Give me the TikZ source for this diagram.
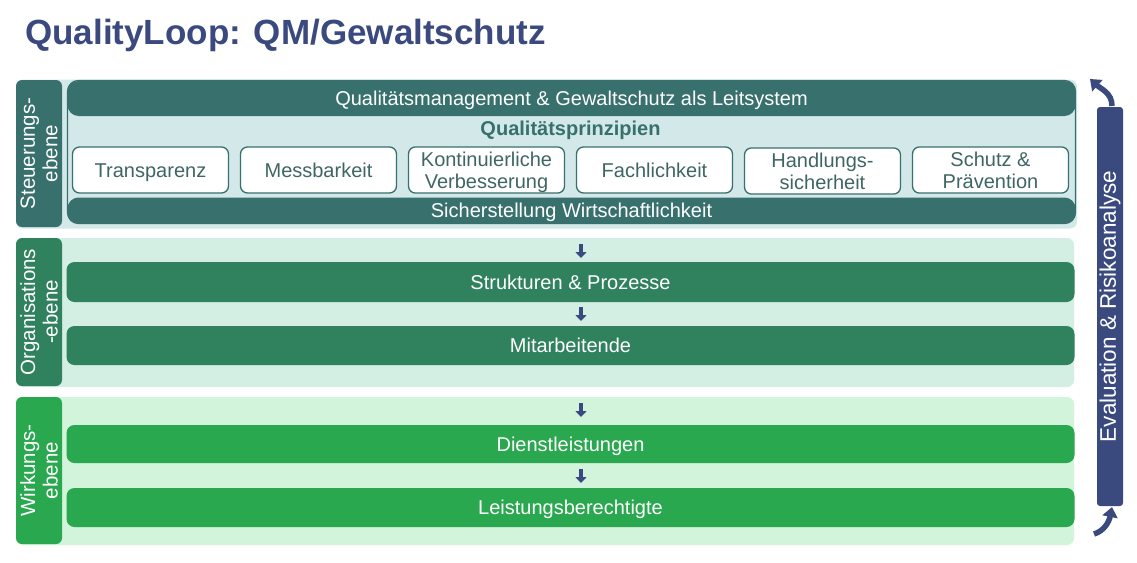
\documentclass[tikz,border=0pt]{standalone}
\usepackage{fontspec}
\setmainfont{Liberation Sans}
\usetikzlibrary{arrows.meta}
\definecolor{dteal}{HTML}{37706D}
\definecolor{lteal}{HTML}{D3E9E9}
\definecolor{ptext}{HTML}{3F6664}
\definecolor{orgc}{HTML}{30825F}
\definecolor{orgbg}{HTML}{D3EEE2}
\definecolor{wirc}{HTML}{29A84F}
\definecolor{wirbg}{HTML}{D1F4DA}
\definecolor{qblue}{HTML}{3A4A7F}
\newcommand{\toprule}{\rule{0pt}{19.5pt}}
\tikzset{
  bodyfont/.style={font=\fontsize{20}{22.5}\selectfont},
  oneline/.style={text height=14.2pt, text depth=0pt},
  band/.style={rounded corners=7pt, inner sep=0pt, draw=none},
  lvlbox/.style={rounded corners=6pt, inner sep=0pt, minimum width=46pt, text=white, font=\fontsize{20.5}{22.5}\selectfont, align=center, rotate=90},
  bar/.style={rounded corners=8pt, inner sep=0pt, minimum width=1008pt, text=white, bodyfont, oneline},
  pbox/.style={rounded corners=7pt, draw=dteal, line width=1.3pt, fill=white, inner sep=0pt, minimum width=156pt, minimum height=46pt, text=ptext, bodyfont, align=center},
  darr/.style={draw=qblue, line width=4.5pt, -{Triangle[width=11pt,length=6pt]}},
  carr/.style={draw=qblue, line width=5.5pt, -{Triangle[width=15pt,length=10pt]}},
}
\begin{document}
\begin{tikzpicture}[x=1pt,y=-1pt]
\useasboundingbox (0,0) rectangle (1137,562);
\fill[white] (0,0) rectangle (1137,562);
% title
\node[anchor=base west, inner sep=0pt, text=qblue, font=\fontsize{35}{40}\selectfont\bfseries] (title) at (25,44) {QualityLoop: QM/Gewaltschutz};
% ---------- Steuerungsebene
\node[band, fill=lteal, minimum width=1061pt, minimum height=149pt] (stband) at (546.5,154) {};
\node[lvlbox, fill=dteal, minimum width=147pt, minimum height=46pt] (stlab) at (39,153.5) {Steuerungs-\\ebene};
\node[rounded corners=11pt, draw=dteal, line width=1.3pt, fill=lteal, inner sep=0pt, minimum width=1008pt, minimum height=143pt] (stcont) at (571.5,152) {};
\node[bar, fill=dteal, minimum height=35pt, rounded corners=11pt] (qm) at (571.5,98.5) {Qualitätsmanagement \& Gewaltschutz als Leitsystem};
\node[bar, fill=dteal, minimum height=26pt, rounded corners=11pt] (wi) at (571.5,210.5) {Sicherstellung Wirtschaftlichkeit};
\node[text=dteal, font=\fontsize{20}{22}\selectfont\bfseries, oneline, inner sep=0pt] (qp) at (570.5,128) {Qualitätsprinzipien};
\node[pbox, oneline] (p1) at (150.5,170) {Transparenz};
\node[pbox, oneline] (p2) at (318.5,170) {Messbarkeit};
\node[pbox] (p3) at (486.5,170) {\toprule Kontinuierliche\\Verbesserung};
\node[pbox, oneline] (p4) at (654.5,170) {Fachlichkeit};
\node[pbox] (p5) at (822.5,171) {\toprule Handlungs-\\sicherheit\vphantom{g}};
\node[pbox] (p6) at (990.5,170) {\toprule Schutz \&\\Prävention\vphantom{g}};
% ---------- Organisationsebene
\node[band, fill=orgbg, minimum width=1058pt, minimum height=149pt] (orband) at (545,312.5) {};
\node[lvlbox, fill=orgc, minimum width=148pt, minimum height=46pt] (orlab) at (39,312) {Organisations\\-ebene};
\node[bar, fill=orgc, minimum height=40pt] (sp) at (570.5,282) {Strukturen \& Prozesse};
\node[bar, fill=orgc, minimum height=39pt] (ma) at (570.5,345.5) {Mitarbeitende};
% ---------- Wirkungsebene
\node[band, fill=wirbg, minimum width=1058pt, minimum height=148pt] (wiband) at (545,471) {};
\node[lvlbox, fill=wirc, minimum width=147pt, minimum height=46pt] (wilab) at (39,470.5) {Wirkungs-\\ebene};
\node[bar, fill=wirc, minimum height=38pt] (dl) at (570.5,444) {Dienstleistungen};
\node[bar, fill=wirc, minimum height=39pt] (lb) at (570.5,507.5) {Leistungsberechtigte};
% small arrows
\coordinate (a1s) at (581,244); \coordinate (a1e) at (581,258);
\coordinate (a2s) at (581,307); \coordinate (a2e) at (581,321);
\coordinate (a3s) at (581,403); \coordinate (a3e) at (581,417);
\coordinate (a4s) at (581,469); \coordinate (a4e) at (581,483);
\draw[darr] (a1s) -- (a1e);
\draw[darr] (a2s) -- (a2e);
\draw[darr] (a3s) -- (a3e);
\draw[darr] (a4s) -- (a4e);
% ---------- Evaluation bar
\node[rounded corners=3pt, fill=qblue, inner sep=0pt, minimum width=399pt, minimum height=26pt, rotate=90, text=white, font=\fontsize{22.5}{26}\selectfont] (ev) at (1110,306.5) {Evaluation \& Risikoanalyse};
\coordinate (cts) at (1112,106);
\coordinate (ctop) at (1090,79);
\coordinate (cbot) at (1112,507);
\coordinate (cbs) at (1094,534);
\draw[carr] (cts) .. controls (1112,93) and (1101,89) .. (ctop);
\draw[carr] (cbs) .. controls (1104,531) and (1109,522) .. (cbot);
\end{tikzpicture}
\end{document}
